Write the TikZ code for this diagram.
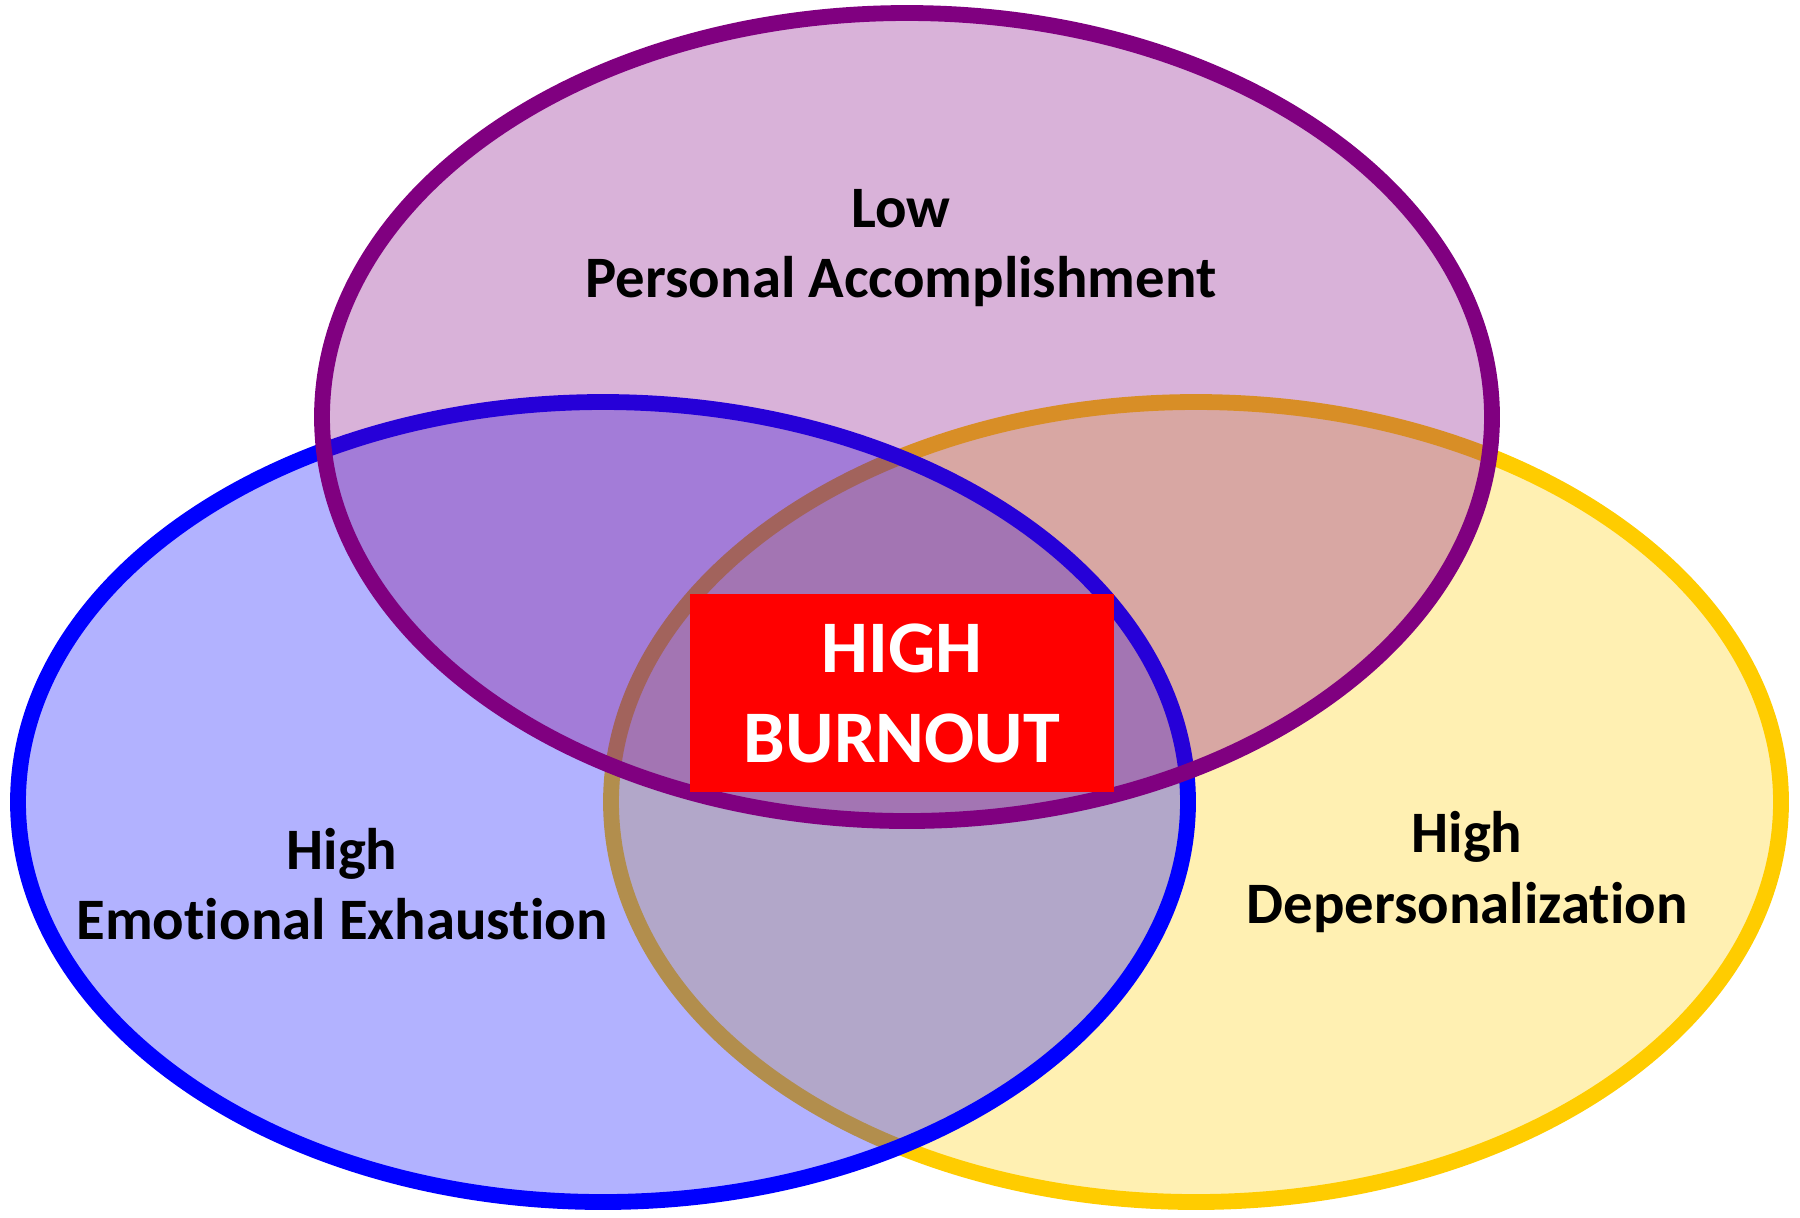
\documentclass[tikz,border=0pt]{standalone}
\usepackage{fontspec}
\setmainfont{Carlito}[Ligatures=NoCommon]
\usetikzlibrary{positioning}
\definecolor{exblue}{HTML}{0000FF}
\definecolor{depyellow}{HTML}{FFCC00}
\definecolor{accpurple}{HTML}{800080}
\definecolor{burnred}{HTML}{FF0000}
\tikzset{
ring/.style={line width=4.5pt,fill opacity=0.3},
blueset/.style={ring,draw=exblue,fill=exblue},
yellowset/.style={ring,draw=depyellow,fill=depyellow},
purpleset/.style={ring,draw=accpurple,fill=accpurple},
setlabel/.style={font=\fontsize{16.7}{20}\selectfont\bfseries,align=center},
burnbox/.style={fill=burnred,text=white,font=\fontsize{21.1}{25.6}\selectfont\bfseries,
align=center,minimum width=4.24cm,minimum height=1.97cm,inner sep=0pt}
}
\begin{document}
\begin{tikzpicture}[x=0.01cm,y=-0.01cm]
\useasboundingbox (0,0) rectangle (1800,1217);
% the three sets, yellow below, purple on top
\draw[yellowset] (1196,802) ellipse [x radius=585, y radius=400];
\draw[blueset] (603,802) ellipse [x radius=585, y radius=400];
\draw[purpleset] (907,417) ellipse [x radius=585, y radius=404];
\node[setlabel] (lowpa) at (901,248) {Low\\Personal Accomplishment};
\node[setlabel] (highee) at (342,884) {High\\Emotional Exhaustion};
\node[setlabel] (highdp) at (1467,872) {High\\Depersonalization};
\node[burnbox] (burnout) at (902,693) {HIGH\\BURNOUT};
\end{tikzpicture}
\end{document}
